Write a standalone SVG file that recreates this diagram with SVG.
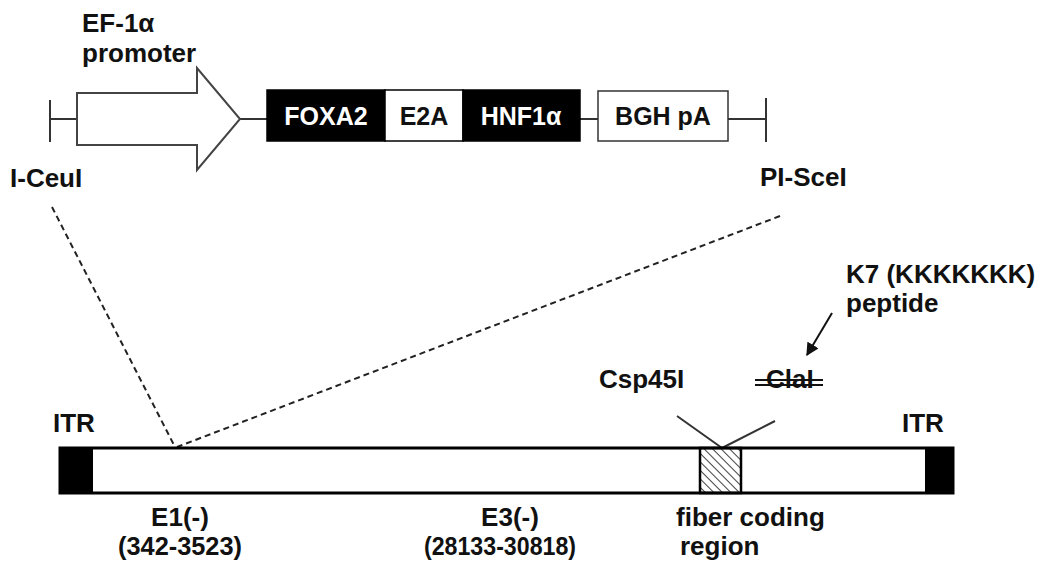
<svg xmlns="http://www.w3.org/2000/svg" width="1050" height="566" viewBox="0 0 1050 566">
<style>
.t{font-family:"Liberation Sans",Arial,sans-serif;font-weight:bold;font-size:26px;fill:#111}
.b{font-family:"Liberation Sans",Arial,sans-serif;font-weight:bold;font-size:26px;fill:#111}
.x{font-family:"Liberation Sans",Arial,sans-serif;font-weight:bold;font-size:25px;fill:#111}
.w{font-family:"Liberation Sans",Arial,sans-serif;font-weight:bold;font-size:25px;fill:#fff}
.ln{stroke:#333;stroke-width:2;fill:none}
.dash{stroke:#222;stroke-width:2;stroke-dasharray:6,4;fill:none}
</style>
<defs>
<pattern id="hatch" patternUnits="userSpaceOnUse" width="6" height="6" patternTransform="rotate(-45)">
<line x1="0" y1="0" x2="0" y2="6" stroke="#111" stroke-width="1.6"/>
</pattern>
<marker id="ah" viewBox="0 0 10 10" refX="9" refY="5" markerWidth="13" markerHeight="13" orient="auto" markerUnits="userSpaceOnUse">
<path d="M0,0 L10,5 L0,10 z" fill="#111"/>
</marker>
</defs>
<rect width="1050" height="566" fill="#fff"/>

<g id="connectors">
<line class="ln" x1="50" y1="100" x2="50" y2="142"/>
<line class="ln" x1="50" y1="119" x2="77" y2="119"/>
<line class="ln" x1="240" y1="119" x2="268" y2="119"/>
<line class="ln" x1="580" y1="119" x2="598" y2="119"/>
<line class="ln" x1="728" y1="119" x2="766" y2="119"/>
<line class="ln" x1="766" y1="98" x2="766" y2="142"/>
<line class="dash" x1="52" y1="207" x2="175" y2="447"/>
<line class="dash" x1="780" y1="216" x2="177" y2="447"/>
<line class="ln" x1="677" y1="416" x2="722" y2="448"/>
<line class="ln" x1="775" y1="421" x2="722" y2="448"/>
<line stroke="#111" stroke-width="2" x1="832" y1="313" x2="807" y2="355" marker-end="url(#ah)"/>
</g>

<g id="promoter">
<polygon points="77,93 197,93 197,68 240,119 197,170 197,145 77,145" fill="#fff" stroke="#444" stroke-width="2"/>
<text class="t" x="82" y="32">EF-1α</text>
<text class="t" x="82" y="62">promoter</text>
</g>
<g id="iceui"><text class="t" x="10" y="187">I-CeuI</text></g>
<g id="pescei"><text class="t" x="760" y="186">PI-SceI</text></g>

<g id="foxa2">
<rect x="267" y="90" width="118" height="51" fill="#000" stroke="#000" stroke-width="1.5"/>
<text class="w" x="326" y="125" text-anchor="middle">FOXA2</text>
</g>
<g id="e2a">
<rect x="385" y="90" width="78" height="51" fill="#fff" stroke="#000" stroke-width="1.5"/>
<text class="x" x="424" y="125" text-anchor="middle">E2A</text>
</g>
<g id="hnf1a">
<rect x="463" y="90" width="117" height="51" fill="#000" stroke="#000" stroke-width="1.5"/>
<text class="w" x="521" y="125" text-anchor="middle">HNF1α</text>
</g>
<g id="bghpa">
<rect x="598" y="91" width="130" height="50" fill="#fff" stroke="#333" stroke-width="1.5"/>
<text class="x" x="663" y="125" text-anchor="middle">BGH pA</text>
</g>

<g id="k7">
<text class="t" x="846" y="283">K7 (KKKKKKK)</text>
<text class="t" x="846" y="312">peptide</text>
</g>
<g id="csp45i"><text class="t" x="599" y="388">Csp45I</text></g>
<g id="clai">
<text class="t" x="766" y="388">ClaI</text>
<line x1="755" y1="380" x2="823" y2="380" stroke="#111" stroke-width="2"/>
<line x1="755" y1="385" x2="823" y2="385" stroke="#111" stroke-width="2"/>
</g>

<g id="genome">
<rect x="60" y="448" width="893" height="45" fill="#fff" stroke="#000" stroke-width="3"/>
<rect x="60" y="448" width="33" height="45" fill="#000"/>
<rect x="925" y="448" width="28" height="45" fill="#000"/>
<rect x="700" y="448" width="41" height="45" fill="url(#hatch)" stroke="#000" stroke-width="2.5"/>
<text class="b" x="53" y="432">ITR</text>
<text class="b" x="902" y="432">ITR</text>
</g>
<g id="e1">
<text class="b" x="180" y="526" text-anchor="middle">E1(-)</text>
<text class="b" x="180" y="555" text-anchor="middle" textLength="124" lengthAdjust="spacingAndGlyphs">(342-3523)</text>
</g>
<g id="e3">
<text class="b" x="510" y="526" text-anchor="middle">E3(-)</text>
<text class="b" x="500" y="555" text-anchor="middle" textLength="152" lengthAdjust="spacingAndGlyphs">(28133-30818)</text>
</g>
<g id="fiber">
<text class="b" x="676" y="526">fiber coding</text>
<text class="b" x="680" y="555">region</text>
</g>
</svg>
